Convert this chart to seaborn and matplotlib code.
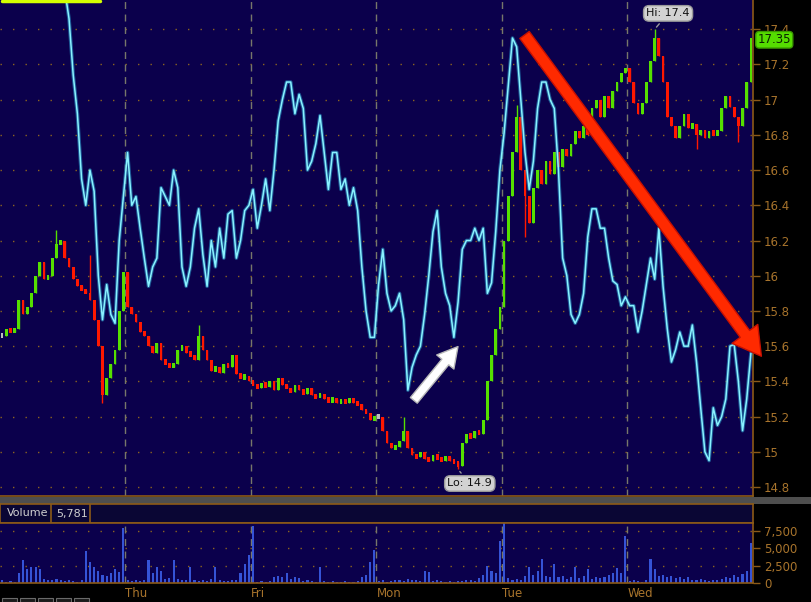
import numpy as np
import matplotlib
matplotlib.use("Agg")
import matplotlib.pyplot as plt
import seaborn as sns
from matplotlib.patches import FancyArrowPatch, Rectangle
from matplotlib.transforms import blended_transform_factory

# ---- data (30 bars per session) ----
BARS_PER_DAY = 30
DAY_LABELS = ["Thu", "Fri", "Mon", "Tue", "Wed"]

close_wed0 = [15.66, 15.70, 15.68, 15.70, 15.86, 15.78, 15.82, 15.90, 16.00, 16.08,
              15.98, 16.00, 16.10, 16.18, 16.20, 16.10, 16.05, 15.98, 15.94, 15.92,
              15.90, 15.86, 15.75, 15.60, 15.32, 15.42, 15.50, 15.58, 15.80, 16.02]
close_thu = [15.82, 15.78, 15.74, 15.68, 15.66, 15.60, 15.56, 15.62, 15.52, 15.50,
             15.48, 15.50, 15.58, 15.60, 15.56, 15.55, 15.52, 15.66, 15.58, 15.52,
             15.46, 15.48, 15.45, 15.50, 15.48, 15.55, 15.44, 15.42, 15.43, 15.40]
close_fri = [15.38, 15.36, 15.39, 15.37, 15.40, 15.35, 15.42, 15.38, 15.36, 15.34,
             15.38, 15.35, 15.33, 15.36, 15.32, 15.31, 15.33, 15.30, 15.29, 15.30,
             15.28, 15.29, 15.28, 15.30, 15.28, 15.27, 15.24, 15.22, 15.18, 15.20]
close_mon = [15.20, 15.12, 15.05, 15.02, 15.03, 15.06, 15.12, 15.02, 14.98, 14.97,
             15.00, 14.96, 14.95, 14.98, 14.96, 14.95, 14.97, 14.95, 14.94, 14.92,
             15.05, 15.10, 15.08, 15.12, 15.10, 15.18, 15.40, 15.55, 15.70, 15.82]
close_tue = [16.20, 16.45, 16.70, 16.90, 16.60, 16.45, 16.30, 16.50, 16.60, 16.52,
             16.65, 16.58, 16.70, 16.62, 16.72, 16.68, 16.75, 16.82, 16.78, 16.85,
             16.80, 16.95, 17.00, 16.90, 17.02, 16.95, 17.05, 17.10, 17.15, 17.18]
close_wed = [17.10, 16.98, 16.92, 16.98, 17.10, 17.22, 17.35, 17.25, 17.10, 16.90,
             16.85, 16.78, 16.85, 16.92, 16.84, 16.86, 16.80, 16.83, 16.78, 16.82,
             16.80, 16.82, 16.95, 17.02, 16.96, 16.90, 16.85, 16.95, 17.10, 17.35]

# wick extremes that stick out of the bodies (bar index -> price)
wick_high = {13: 16.26, 21: 16.12, 47: 15.72, 96: 15.20, 123: 16.97, 156: 17.40}
wick_low = {24: 15.28, 109: 14.90, 125: 16.22, 166: 16.72, 176: 16.76}

# cyan indicator, drawn in price units as it sits on the chart
nan = np.nan
ind_wed0 = [nan] * 15 + [17.62, 17.46, 17.14, 16.92, 16.55, 16.40, 16.60, 16.48, 16.00, 15.75,
                         15.95, 15.78, 15.73, 16.20, 16.45]
ind_thu = [16.70, 16.40, 16.45, 16.27, 16.10, 15.94, 16.05, 16.10, 16.50, 16.45,
           16.40, 16.60, 16.50, 16.05, 15.94, 16.05, 16.27, 16.38, 16.12, 15.94,
           16.20, 16.05, 16.27, 16.10, 16.35, 16.37, 16.10, 16.20, 16.37, 16.40]
ind_fri = [16.49, 16.27, 16.40, 16.55, 16.37, 16.60, 16.88, 17.00, 17.10, 17.10,
           16.92, 17.03, 16.95, 16.60, 16.65, 16.75, 16.91, 16.70, 16.49, 16.70,
           16.70, 16.49, 16.55, 16.40, 16.50, 16.37, 16.05, 15.80, 15.65, 15.65]
ind_mon = [15.95, 16.15, 15.90, 15.80, 15.83, 15.90, 15.75, 15.35, 15.48, 15.55,
           15.60, 15.78, 16.00, 16.25, 16.37, 16.05, 15.90, 15.83, 15.65, 15.85,
           16.15, 16.20, 16.20, 16.27, 16.20, 16.27, 15.90, 15.96, 16.25, 16.60]
ind_tue = [16.81, 17.08, 17.35, 17.30, 17.00, 16.70, 16.49, 16.65, 16.95, 17.10,
           17.10, 17.00, 16.95, 16.60, 16.10, 16.00, 15.78, 15.73, 15.78, 15.90,
           16.22, 16.38, 16.38, 16.27, 16.27, 16.10, 15.97, 15.95, 15.83, 15.88]
ind_wed = [15.83, 15.83, 15.68, 15.80, 15.95, 16.10, 15.98, 16.27, 15.94, 15.70,
           15.51, 15.58, 15.68, 15.60, 15.60, 15.72, 15.51, 15.25, 15.00, 14.95,
           15.25, 15.15, 15.20, 15.30, 15.60, 15.61, 15.40, 15.12, 15.30, 15.56]

vol_wed0 = [400, 200, 300, 200, 1500, 3300, 2000, 2300, 2300, 2000, 600, 500, 400, 600, 500,
            300, 400, 300, 200, 400, 4600, 3000, 2300, 1800, 1200, 1000, 1500, 2000, 1600, 7900]
vol_thu = [500, 300, 400, 300, 400, 3300, 1500, 2300, 1800, 600, 700, 3300, 600, 500, 400,
           2300, 500, 300, 400, 300, 600, 2300, 400, 300, 300, 500, 400, 1500, 2700, 4000]
vol_fri = [8300, 200, 300, 200, 300, 800, 1000, 900, 1500, 600, 800, 700, 300, 400, 300,
           200, 2300, 300, 200, 300, 200, 200, 300, 200, 200, 300, 800, 1200, 3000, 4800]
vol_mon = [300, 400, 200, 300, 500, 400, 300, 600, 500, 400, 300, 1800, 1600, 300, 400,
           300, 200, 300, 200, 300, 300, 500, 400, 300, 700, 1200, 2500, 1700, 1500, 6000]
vol_tue = [8600, 700, 400, 600, 500, 1000, 2300, 1200, 1800, 3400, 1000, 800, 2700, 900, 1000,
           600, 800, 2300, 700, 1000, 2000, 600, 800, 700, 900, 1100, 1400, 2200, 1500, 6800]
vol_wed = [300, 400, 300, 200, 500, 3500, 2000, 1000, 1100, 900, 1000, 700, 800, 600, 900,
           500, 400, 600, 500, 300, 500, 400, 600, 900, 700, 1200, 800, 1300, 1700, 5781]

price_ticks = [14.8, 15.0, 15.2, 15.4, 15.6, 15.8, 16.0, 16.2, 16.4, 16.6, 16.8, 17.0, 17.2, 17.4]
price_tick_labels = ["14.8", "15", "15.2", "15.4", "15.6", "15.8", "16", "16.2", "16.4",
                     "16.6", "16.8", "17", "17.2", "17.4"]
vol_ticks = [0, 2500, 5000, 7500]
vol_tick_labels = ["0", "2,500", "5,000", "7,500"]
last_price = 17.35
last_volume = "5,781"

# ---- colours ----
BG = "#0b004c"
GRID = "#8c6420"
TXT = "#a8742c"
DAYLINE = "#77776a"
UP, DOWN, FLAT = "#55e000", "#ff1800", "#bdbdbd"
VOLBLUE = "#3553d6"

sns.set_theme(style="dark", rc={"axes.facecolor": BG, "figure.facecolor": "black"})
plt.rcParams["font.family"] = ["DejaVu Sans"]

closes = np.array(close_wed0 + close_thu + close_fri + close_mon + close_tue + close_wed)
indicator = np.array(ind_wed0 + ind_thu + ind_fri + ind_mon + ind_tue + ind_wed)
volume = np.array(vol_wed0 + vol_thu + vol_fri + vol_mon + vol_tue + vol_wed)
n = len(closes)
pos = np.arange(n) + 0.5
opens = np.concatenate([[closes[0]], closes[:-1]])
highs = np.maximum(opens, closes)
lows = np.minimum(opens, closes)
for i, v in wick_high.items():
    highs[i] = max(highs[i], v)
for i, v in wick_low.items():
    lows[i] = min(lows[i], v)
colors = [UP if c > o else DOWN if c < o else FLAT for o, c in zip(opens, closes)]
day_edges = [BARS_PER_DAY * (k + 1) for k in range(len(DAY_LABELS))]


def px_box(x0, y0, x1, y1, W=812, H=602):
    return [x0 / W, 1 - y1 / H, (x1 - x0) / W, (y1 - y0) / H]


fig = plt.figure(figsize=(8.12, 6.02), dpi=100)

# ---- price panel ----
ax = fig.add_axes(px_box(0, 0, 753, 496))
ax.set_facecolor(BG)
ax.set_xlim(0, n)
ax.set_ylim(14.749, 17.566)
for t in price_ticks:
    ax.axhline(t, color=GRID, lw=1, ls=(0, (1, 8)), zorder=1)
for d in day_edges:
    ax.axvline(d, color=DAYLINE, lw=1, ls=(0, (5, 4)), zorder=1)

# bodies get a minimum visible height, centred on the open/close midpoint
min_body = 0.03
mid = (opens + closes) / 2
body_h = np.maximum(np.abs(closes - opens), min_body)
ax.vlines(pos, lows, highs, colors=colors, lw=1, zorder=2)
ax.bar(pos, body_h, bottom=mid - body_h / 2, width=0.66, color=colors,
       linewidth=0, zorder=3)

sns.lineplot(x=pos, y=indicator, ax=ax, color="#2a9fd0", lw=2.6, alpha=0.55,
             estimator=None, zorder=4)
sns.lineplot(x=pos, y=indicator, ax=ax, color="#8af2ff", lw=1.1,
             estimator=None, zorder=5)

ax.yaxis.tick_right()
ax.set_yticks(price_ticks)
ax.set_yticklabels(price_tick_labels)
ax.set_xticks([])
ax.tick_params(axis="y", colors="#8c5a18", labelcolor=TXT, length=5, width=1,
               direction="out", pad=3, labelsize=8.5, right=True)
ax.set_xlabel("")
ax.set_ylabel("")
for s in ["top", "left"]:
    ax.spines[s].set_visible(False)
for s in ["right", "bottom"]:
    ax.spines[s].set_color("#8c5a18")
    ax.spines[s].set_linewidth(1.2)

# yellow marker at top left
ax.plot([0.003, 0.133], [0.998, 0.998], transform=ax.transAxes, color="#d4ff00",
        lw=2.5, clip_on=False, zorder=6)

# last price tag
trans = blended_transform_factory(ax.transAxes, ax.transData)
ax.text(1.006, last_price - 0.01, f"{last_price:.2f}", transform=trans, ha="left",
        va="center", fontsize=8.5, color="#0a2400",
        bbox=dict(boxstyle="round,pad=0.15,rounding_size=0.3", fc="#55dd00", ec="#3a9900"),
        zorder=10, clip_on=False)

# Hi / Lo callouts
hi_idx, lo_idx = 156, 109
bubble = dict(boxstyle="round,pad=0.25,rounding_size=0.5", fc="#d2d2d2", ec="#9a9a9a")
ax.annotate(f"Hi: {highs[hi_idx]:.1f}", xy=(pos[hi_idx], highs[hi_idx]),
            xytext=(159.7, 17.49), ha="center", va="center", fontsize=8, color="#111111",
            bbox=bubble, arrowprops=dict(arrowstyle="-", color="#9a9a9a", lw=1),
            zorder=9)
ax.annotate(f"Lo: {lows[lo_idx]:.1f}", xy=(pos[lo_idx], lows[lo_idx]),
            xytext=(112.3, 14.82), ha="center", va="center", fontsize=8, color="#111111",
            bbox=bubble, arrowprops=dict(arrowstyle="-", color="#9a9a9a", lw=1),
            zorder=9)

# hand drawn arrows
white_arrow = FancyArrowPatch((98.5, 15.28), (109.9, 15.61),
                              arrowstyle="simple,tail_width=0.4,head_width=1.0,head_length=0.9",
                              mutation_scale=16, fc="white", ec="#b8b8b8", lw=1,
                              zorder=11, clip_on=False)
ax.add_patch(white_arrow)
red_arrow = FancyArrowPatch((125.0, 17.38), (182.4, 15.53),
                            arrowstyle="simple,tail_width=0.42,head_width=1.15,head_length=1.0",
                            mutation_scale=20, fc="#ff2a00", ec="#c81000", lw=1,
                            zorder=12, clip_on=False)
ax.add_patch(red_arrow)

# ---- separator band ----
sep = fig.add_axes(px_box(0, 497, 812, 504))
sep.set_facecolor("#4e4e4e")
sep.set_xticks([])
sep.set_yticks([])
for s in sep.spines.values():
    s.set_visible(False)

# ---- volume header strip ----
hdr = fig.add_axes(px_box(0, 504, 753, 523))
hdr.set_facecolor("#0a0634")
hdr.set_xlim(0, 753)
hdr.set_ylim(0, 1)
hdr.set_xticks([])
hdr.set_yticks([])
for s in hdr.spines.values():
    s.set_color("#8c5a18")
    s.set_linewidth(1.2)
hdr.axvline(51, color="#8c5a18", lw=1.2)
hdr.axvline(90, color="#8c5a18", lw=1.2)
hdr.text(7, 0.5, "Volume", fontsize=8, color="#cfcfcf", va="center", ha="left")
hdr.text(56, 0.5, last_volume, fontsize=8, color="#cfcfcf", va="center", ha="left")

# ---- volume panel ----
axv = fig.add_axes(px_box(0, 523, 753, 583))
axv.set_facecolor(BG)
for t in vol_ticks[1:]:
    axv.axhline(t, color=GRID, lw=1, ls=(0, (1, 8)), zorder=1)
for d in day_edges:
    axv.axvline(d, color=DAYLINE, lw=1, ls=(0, (5, 4)), zorder=1)
sns.barplot(x=pos, y=volume, native_scale=True, color=VOLBLUE, saturation=1,
            width=0.5, linewidth=0, errorbar=None, ax=axv, zorder=2)
axv.set_xlim(0, n)
axv.set_ylim(0, 8670)
axv.yaxis.tick_right()
axv.set_yticks(vol_ticks)
axv.set_yticklabels(vol_tick_labels)
axv.set_xticks(day_edges)
axv.set_xticklabels(DAY_LABELS, ha="left")
axv.tick_params(axis="y", colors="#8c5a18", labelcolor=TXT, length=5, width=1,
                direction="out", pad=3, labelsize=8.5, right=True, left=False)
axv.tick_params(axis="x", length=0, pad=3, labelcolor=TXT, labelsize=8.5)
axv.set_xlabel("")
axv.set_ylabel("")
for s in ["top", "left"]:
    axv.spines[s].set_visible(False)
for s in ["right", "bottom"]:
    axv.spines[s].set_color("#8c5a18")
    axv.spines[s].set_linewidth(1.2)
axv.axhline(8670, color="#8c5a18", lw=1.2, clip_on=False)

# little toolbar buttons in the bottom left corner
for x0 in [2, 20, 38, 56, 74]:
    fig.patches.append(Rectangle((x0 / 812, 0), 15 / 812, 4 / 602, transform=fig.transFigure,
                                 fc="#1a1a1a", ec="#6a6a6a", lw=0.8))

fig.savefig("out.png", dpi=100, facecolor="black")
